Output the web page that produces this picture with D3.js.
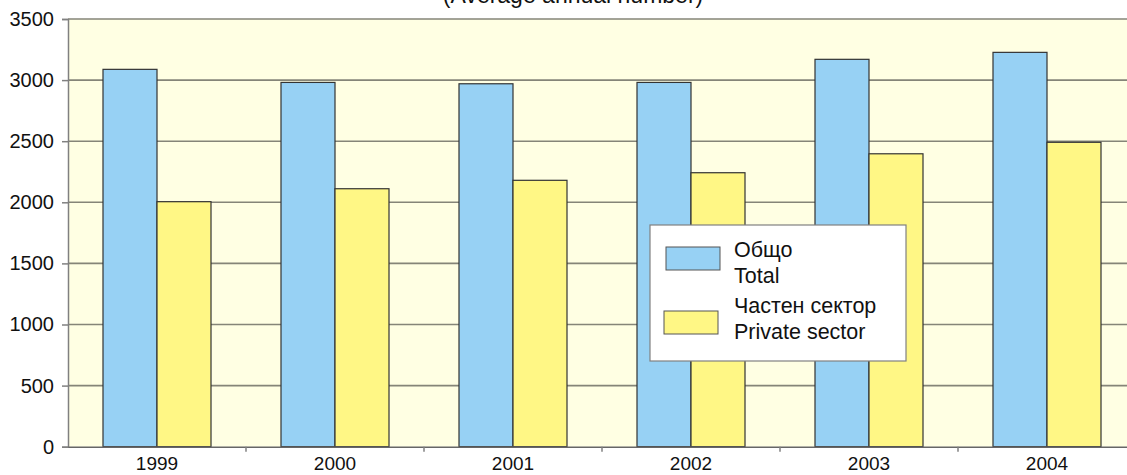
<!DOCTYPE html>
<html>
<head>
<meta charset="utf-8">
<script src="https://cdn.jsdelivr.net/npm/d3@7"></script>
<style>
  body { margin: 0; background: #fff; }
  svg { display: block; font-family: "Liberation Sans", Arial, Helvetica, sans-serif; }
</style>
</head>
<body>
<svg id="chart"></svg>
<script>
var years = ["1999", "2000", "2001", "2002", "2003", "2004"]
var total = [3088, 2981, 2970, 2981, 3170, 3227]
var privateSector = [2005, 2111, 2180, 2242, 2397, 2491]
var yTicks = [0, 500, 1000, 1500, 2000, 2500, 3000, 3500]
var seriesNames = ["total", "private"]
var legendLabels = [["Общо", "Total"], ["Частен сектор", "Private sector"]]
var title = "(Average annual number)"

var colors = {total: "#97d1f4", private: "#fff785"}

var screen = {width: 1127, height: 475}
var margins = {top: 19, left: 68}
var graph = {width: 178 * years.length, height: 427.7}

var svg = d3.select("#chart")
    .attr("width", screen.width)
    .attr("height", screen.height)

var xScale = d3.scaleBand()
    .domain(years)
    .range([margins.left, margins.left + graph.width])
    .padding(0)

var inner = d3.scaleBand()
    .domain(seriesNames)
    .range([35, 143])

var yScale = d3.scaleLinear()
    .domain([0, 3500])
    .range([margins.top + graph.height, margins.top])

// plot background
svg.append("rect")
    .attr("x", margins.left)
    .attr("y", margins.top)
    .attr("width", graph.width)
    .attr("height", graph.height)
    .attr("fill", "#ffffe3")

// gridlines
svg.append("g")
    .selectAll("line")
    .data(yTicks.filter(function(d){return d > 0}))
    .enter()
    .append("line")
    .attr("x1", margins.left)
    .attr("x2", margins.left + graph.width)
    .attr("y1", function(d){return yScale(d)})
    .attr("y2", function(d){return yScale(d)})
    .attr("stroke", "#858578")
    .attr("stroke-width", 1.6)

var rows = years.map(function(y, i){
    return {year: y, total: total[i], private: privateSector[i]}
})

var groups = svg.append("g")
    .selectAll("g")
    .data(rows)
    .enter()
    .append("g")
    .attr("transform", function(d){return "translate(" + xScale(d.year) + ",0)"})

groups.selectAll("rect")
    .data(function(d){return seriesNames.map(function(k){return {key: k, value: d[k]}})})
    .enter()
    .append("rect")
    .attr("x", function(d){return inner(d.key)})
    .attr("width", inner.bandwidth())
    .attr("y", function(d){return yScale(d.value)})
    .attr("height", function(d){return yScale(0) - yScale(d.value)})
    .attr("fill", function(d){return colors[d.key]})
    .attr("stroke", "#333")
    .attr("stroke-width", 1.2)

// axes
var yAxis = d3.axisLeft(yScale).tickValues(yTicks).tickFormat(d3.format("d")).tickSize(6).tickPadding(8)
var ay = svg.append("g")
    .attr("transform", "translate(" + margins.left + ",0)")
    .call(yAxis)
ay.select(".domain").attr("stroke", "#808080").attr("stroke-width", 1.5)
ay.selectAll(".tick line").attr("stroke", "#808080").attr("stroke-width", 1.5)
ay.selectAll("text").attr("font-size", 20).attr("fill", "#111").attr("font-family", null)

var xAxis = d3.axisBottom(xScale).tickSize(0).tickPadding(10)
var ax = svg.append("g")
    .attr("transform", "translate(0," + yScale(0) + ")")
    .call(xAxis)
ax.select(".domain").attr("stroke", "#666").attr("stroke-width", 1.5)
ax.selectAll("text").attr("font-size", 19).attr("fill", "#111").attr("font-family", null)

// category separators on x axis
svg.append("g")
    .selectAll("line")
    .data(years.slice(1))
    .enter()
    .append("line")
    .attr("x1", function(d){return xScale(d)})
    .attr("x2", function(d){return xScale(d)})
    .attr("y1", yScale(0))
    .attr("y2", yScale(0) + 5)
    .attr("stroke", "#808080")
    .attr("stroke-width", 1.5)

// title (cut off at top, as in the source)
svg.append("text")
    .text(title)
    .attr("x", 573)
    .attr("y", 2.5)
    .attr("text-anchor", "middle")
    .attr("font-size", 23)
    .attr("fill", "#111")

// legend
var legend = svg.append("g").attr("transform", "translate(650,225)")
legend.append("rect")
    .attr("width", 256)
    .attr("height", 136)
    .attr("fill", "#fff")
    .attr("stroke", "#808080")
    .attr("stroke-width", 1.2)

var items = legend.selectAll("g.item")
    .data(seriesNames)
    .enter()
    .append("g")
    .classed("item", true)
    .attr("transform", function(d, i){return "translate(0," + (i * 64) + ")"})

items.append("rect")
    .attr("x", function(d, i){return i == 0 ? 16 : 14})
    .attr("y", 22)
    .attr("width", 54)
    .attr("height", 23)
    .attr("fill", function(d){return colors[d]})
    .attr("stroke", "#555")
    .attr("stroke-width", 1)

items.each(function(d, i){
    var t = d3.select(this).append("text")
        .attr("font-size", 21.5)
        .attr("fill", "#111")
    legendLabels[i].forEach(function(line, j){
        t.append("tspan")
            .text(line)
            .attr("x", 84)
            .attr("y", (i == 0 ? 32 : 24) + j * 26)
    })
})
</script>
</body>
</html>
